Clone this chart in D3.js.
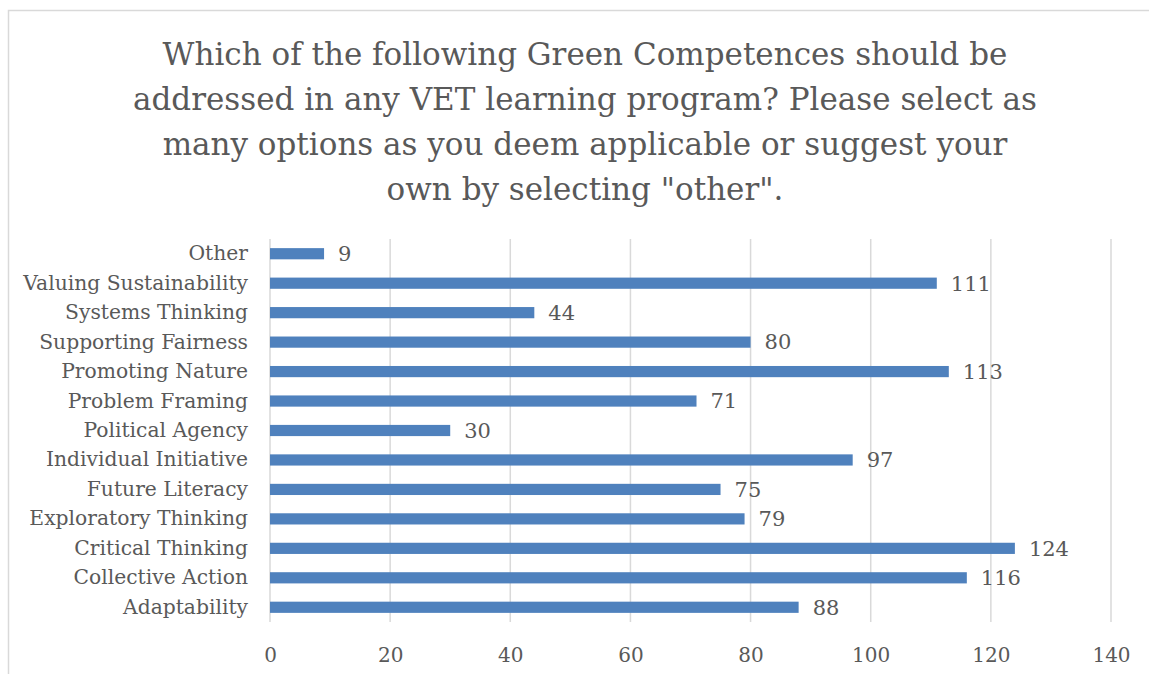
<!DOCTYPE html>
<html><head><meta charset="utf-8">
<script src="https://cdn.jsdelivr.net/npm/d3@7"></script>
<style>body{margin:0;background:#fff}svg{display:block}</style>
</head><body>
<svg id="c" width="1149" height="674"></svg>
<script>
const categories = ["Other","Valuing Sustainability","Systems Thinking","Supporting Fairness","Promoting Nature","Problem Framing","Political Agency","Individual Initiative","Future Literacy","Exploratory Thinking","Critical Thinking","Collective Action","Adaptability"];
const values = [9,111,44,80,113,71,30,97,75,79,124,116,88];
const tickValues = [0,20,40,60,80,100,120,140];
const titleLines = ["Which of the following Green Competences should be","addressed in any VET learning program? Please select as","many options as you deem applicable or suggest your","own by selecting \"other\"."];

const svg = d3.select("#c");
const font = "'DejaVu Serif', serif";
const txt = "#595959";
svg.append("rect").attr("x",8.5).attr("y",10.5).attr("width",1200).attr("height",800)
  .attr("fill","#fff").attr("stroke","#d9d9d9").attr("stroke-width",1.5);

svg.selectAll("text.title").data(titleLines).join("text").attr("class","title")
  .attr("x",585).attr("y",(d,i)=>65+i*45).attr("text-anchor","middle")
  .attr("font-family",font).attr("font-size",31).attr("fill",txt).text(d=>d);

const x = d3.scaleLinear().domain([0,140]).range([270,1111]);
const y = d3.scaleBand().domain(categories).range([239,622]).paddingInner(0.62).paddingOuter(0.31);

svg.append("g").selectAll("line").data(tickValues).join("line")
  .attr("x1",d=>x(d)).attr("x2",d=>x(d)).attr("y1",239).attr("y2",622)
  .attr("stroke","#d9d9d9").attr("stroke-width",1.5);

const xa = svg.append("g").attr("transform","translate(0,622)")
  .call(d3.axisBottom(x).tickValues(tickValues).tickSize(0).tickPadding(26));
xa.select(".domain").remove();
xa.selectAll("text").attr("font-family",font).attr("font-size",20).attr("fill",txt);

const ya = svg.append("g").attr("transform","translate(270,0)")
  .call(d3.axisLeft(y).tickSize(0).tickPadding(22));
ya.select(".domain").remove();
ya.selectAll("text").attr("font-family",font).attr("font-size",20.3).attr("fill",txt);

svg.append("g").selectAll("rect").data(values).join("rect")
  .attr("x",x(0)).attr("y",(d,i)=>y(categories[i]))
  .attr("width",d=>x(d)-x(0)).attr("height",y.bandwidth())
  .attr("fill","#4f81bd");

svg.append("g").selectAll("text").data(values).join("text")
  .attr("x",d=>x(d)+14).attr("y",(d,i)=>y(categories[i])+y.bandwidth()/2)
  .attr("dy","0.35em").attr("font-family",font).attr("font-size",21).attr("fill",txt).text(d=>d);
</script>
</body></html>
